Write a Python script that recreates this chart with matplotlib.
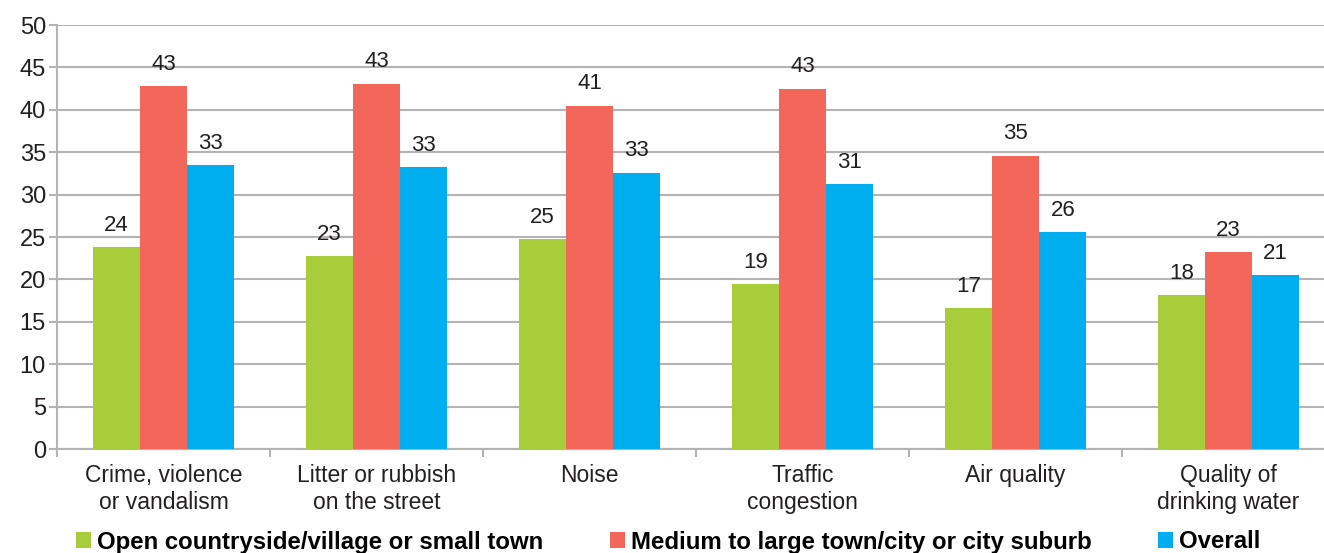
import numpy as np
import matplotlib
matplotlib.use("Agg")
import matplotlib.pyplot as plt
from matplotlib.patches import Patch

plt.rcParams['font.family'] = ['Liberation Sans', 'DejaVu Sans']

categories = ['Crime, violence\nor vandalism', 'Litter or rubbish\non the street', 'Noise',
              'Traffic\ncongestion', 'Air quality', 'Quality of\ndrinking water']
series_names = ['Open countryside/village or small town',
                'Medium to large town/city or city suburb',
                'Overall']
countryside = [23.8, 22.8, 24.8, 19.4, 16.6, 18.2]
town_city = [42.8, 43.1, 40.5, 42.5, 34.6, 23.2]
overall = [33.5, 33.3, 32.6, 31.2, 25.6, 20.5]
labels_country = ['24', '23', '25', '19', '17', '18']
labels_town = ['43', '43', '41', '43', '35', '23']
labels_overall = ['33', '33', '33', '31', '26', '21']

colors = ['#A8CD3A', '#F2675A', '#00AEEF']
txt = '#231F20'
grid_c = '#B3B3B3'

fig = plt.figure(figsize=(13.24, 5.53), dpi=100)
ax = fig.add_axes([57/1324, 104/553, 1278/1324, 424/553])

x = np.arange(len(categories))
w = 0.222
data = [countryside, town_city, overall]
labs = [labels_country, labels_town, labels_overall]
for i, (vals, lab) in enumerate(zip(data, labs)):
    bars = ax.bar(x + (i - 1) * w, vals, width=w, color=colors[i], zorder=3)
    for b, l in zip(bars, lab):
        ax.annotate(l, (b.get_x() + b.get_width() / 2, b.get_height()),
                    xytext=(0, 8), textcoords='offset points',
                    ha='center', va='bottom', fontsize=16, color=txt)

ax.set_xlim(-0.5, len(categories) - 0.5)
ax.set_ylim(0, 50)
ax.set_yticks(np.arange(0, 51, 5))
ax.yaxis.grid(True, color=grid_c, linewidth=1.5, zorder=0)
ax.set_axisbelow(True)

ax.set_xticks(x)
ax.set_xticklabels(categories, fontsize=16.5, color=txt, linespacing=1.2)
ax.set_xticks(np.arange(-0.5, len(categories), 1), minor=True)
ax.tick_params(axis='x', which='major', length=0, pad=11)
ax.tick_params(axis='x', which='minor', length=6, width=1.5, color=grid_c, direction='out')
ax.tick_params(axis='y', length=6, width=1.5, color=grid_c, labelsize=17,
               labelcolor=txt, pad=2)

for s in ['top', 'right']:
    ax.spines[s].set_visible(False)
for s in ['left', 'bottom']:
    ax.spines[s].set_color(grid_c)
    ax.spines[s].set_linewidth(1.5)

handles = [Patch(facecolor=c, edgecolor='none') for c in colors]
leg = fig.legend(handles, series_names, loc='center left', bbox_to_anchor=(76/1324, 1 - 542/553),
                 ncol=3, frameon=False, prop={'size': 17.3, 'weight': 'bold'},
                 handlelength=0.64, handleheight=0.64, handletextpad=0.25,
                 columnspacing=2.75, borderpad=0, borderaxespad=0)
for t in leg.get_texts():
    t.set_color('black')

fig.savefig('out.png', dpi=100)
